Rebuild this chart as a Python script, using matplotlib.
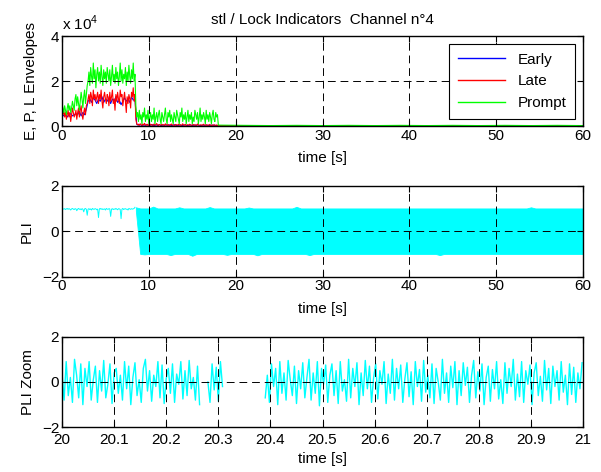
import numpy as np
import matplotlib
matplotlib.use("Agg")
import matplotlib.pyplot as plt

plt.rcParams['font.family'] = ['Liberation Sans', 'DejaVu Sans']
plt.rcParams['font.size'] = 11
plt.rcParams['mathtext.fontset'] = 'custom'
plt.rcParams['mathtext.rm'] = 'Liberation Sans'

# envelopes (x 1e4), one sample every 0.1 s from 0 s
prompt_env = [1.0, 0.8, 0.6, 0.9, 0.7, 0.5, 0.8, 1.0, 0.7, 0.9, 0.6, 0.8, 1.1, 0.9, 0.7,
              1.2, 1.4, 0.9, 1.3, 1.0, 0.7, 1.1, 1.5, 1.2, 0.8, 1.3, 1.6, 1.0, 1.4, 1.8,
              2.0, 2.4, 1.8, 2.6, 2.2, 1.9, 2.8, 2.1, 2.5, 1.7, 2.3, 2.6, 2.0, 2.4, 1.9,
              2.7, 2.2, 1.8, 2.5, 2.1, 2.4, 1.9, 2.6, 2.3, 2.0, 2.5, 1.8, 2.2, 2.7, 2.0,
              2.3, 1.9, 2.6, 2.1, 2.4, 1.8, 2.2, 2.8, 2.0, 2.5, 1.9, 2.3, 2.1, 2.6, 1.8,
              2.4, 2.0, 2.7, 2.2, 1.9, 2.5, 2.1, 2.8, 2.0, 2.3,
              0.9, 0.4, 0.6, 0.2, 0.7, 0.3, 0.5, 0.1, 0.6, 0.4, 0.8, 0.2, 0.5, 0.3, 0.7,
              0.1, 0.4, 0.6, 0.2, 0.5, 0.3, 0.8, 0.1, 0.4, 0.6, 0.2, 0.5, 0.7, 0.3, 0.1,
              0.6, 0.4, 0.2, 0.5, 0.8, 0.3, 0.1, 0.6, 0.4, 0.7, 0.2, 0.5, 0.3, 0.1, 0.6,
              0.4, 0.2, 0.7, 0.5, 0.3, 0.1, 0.6, 0.4, 0.8, 0.2, 0.5, 0.3, 0.6, 0.1, 0.4,
              0.7, 0.2, 0.5, 0.3, 0.6, 0.1, 0.4, 0.2, 0.7, 0.5, 0.3, 0.6, 0.1, 0.4, 0.8,
              0.2, 0.5, 0.3, 0.6, 0.4, 0.1, 0.7, 0.3, 0.5, 0.2, 0.6, 0.4, 0.1, 0.5, 0.7,
              0.3, 0.2, 0.6, 0.4, 0.5]
late_env = [0.6, 0.5, 0.7, 0.4, 0.6, 0.3, 0.5, 0.7, 0.4, 0.6, 0.2, 0.5, 0.8, 0.6, 0.4,
            0.5, 0.7, 0.3, 0.6, 0.8, 0.4, 0.7, 0.9, 0.5, 0.3, 0.6, 0.8, 0.5, 0.9, 1.0,
            1.2, 1.4, 1.0, 1.5, 1.3, 0.9, 1.6, 1.2, 1.4, 1.1, 1.3, 1.5, 1.0, 1.4, 1.2,
            1.6, 1.1, 0.8, 1.3, 1.5, 1.2, 1.0, 1.4, 1.3, 0.9, 1.5, 1.1, 1.3, 1.6, 1.0,
            1.2, 0.7, 1.4, 1.1, 1.5, 1.2, 1.0, 1.6, 1.3, 1.4, 0.9, 1.2, 1.5, 1.1, 0.6,
            1.3, 1.0, 1.4, 1.2, 0.8, 1.5, 1.3, 1.7, 1.1, 1.4,
            0.3, 0.1, 0.05, 0.08, 0.03, 0.1, 0.06, 0.02, 0.09, 0.04, 0.12, 0.05, 0.03, 0.08, 0.02,
            0.06, 0.1, 0.04, 0.07, 0.02, 0.05, 0.09, 0.03, 0.06, 0.11, 0.04, 0.02, 0.07, 0.05, 0.03,
            0.08, 0.04, 0.06, 0.02, 0.1, 0.05, 0.03, 0.07, 0.04, 0.02, 0.06, 0.09, 0.03, 0.05, 0.04,
            0.02, 0.07, 0.05, 0.03, 0.08, 0.04, 0.06, 0.02, 0.05, 0.1, 0.03, 0.04, 0.07, 0.02, 0.05,
            0.06, 0.03, 0.08, 0.04, 0.02, 0.05, 0.07, 0.03, 0.06, 0.04, 0.02, 0.09, 0.05, 0.03, 0.04,
            0.06, 0.02, 0.05, 0.08, 0.03, 0.04, 0.06, 0.02, 0.05, 0.03, 0.07, 0.04, 0.02, 0.05, 0.03,
            0.06, 0.04, 0.02, 0.05, 0.03]
# early envelope, one sample every 0.2 s (mostly hidden under the late one)
early_env = [0.5, 0.45, 0.55, 0.4, 0.5, 0.55, 0.45, 0.5,
             0.55, 0.5, 0.65, 0.45, 0.6, 0.5, 0.75,
             1.1, 1.2, 1.05, 1.25, 1.15, 1.0, 1.2, 1.1, 1.3, 1.05, 1.2, 1.1, 1.25, 1.0,
             1.2, 1.1, 1.3, 1.05, 1.15, 0.95, 1.1, 1.25, 1.1, 1.2, 1.05, 1.3, 1.15, 1.2,
             0.08, 0.04, 0.06, 0.02, 0.05, 0.03, 0.07, 0.02, 0.04, 0.06, 0.02, 0.05, 0.03, 0.06,
             0.02, 0.04, 0.03, 0.05, 0.03, 0.05, 0.02, 0.04, 0.06, 0.02, 0.03, 0.05, 0.02, 0.04,
             0.05, 0.02, 0.03, 0.05, 0.02, 0.04, 0.03, 0.05, 0.03, 0.02, 0.04, 0.03, 0.04, 0.03,
             0.02, 0.04, 0.03, 0.03, 0.02]
# after loss of signal (18 s .. 60 s)
t_tail = [18, 21, 24, 27, 30, 33, 36, 39, 42, 45, 48, 51, 54, 57, 60]
prompt_tail = [0.04, 0.03, 0.02, 0.03, 0.02, 0.03, 0.02, 0.03, 0.02, 0.03, 0.02, 0.03, 0.02, 0.03, 0.02]
late_tail = [0.02, 0.01, 0.01, 0.01, 0.01, 0.01, 0.01, 0.01, 0.01, 0.01, 0.01, 0.01, 0.01, 0.01, 0.01]
early_tail = [0.02, 0.01, 0.01, 0.01, 0.01, 0.01, 0.01, 0.01, 0.01, 0.01, 0.01, 0.01, 0.01, 0.01, 0.01]

# PLI while locked, one sample every 0.1 s from 0 s
pli_lock = [1.0, 0.98, 0.97, 0.99, 0.95, 0.98, 1.0, 0.96, 0.99, 0.97, 0.93, 0.98, 1.0, 0.97, 0.95,
            0.99, 0.98, 0.9, 0.97, 1.0, 0.96, 0.98, 0.94, 0.99, 0.97, 0.85, 0.98, 1.0, 0.96, 0.7,
            0.97, 0.99, 0.95, 0.98, 0.93, 1.0, 0.97, 0.96, 0.99, 0.98, 0.94, 0.97, 0.6, 0.98, 1.0,
            0.96, 0.99, 0.95, 0.97, 0.98, 0.93, 1.0, 0.97, 0.96, 0.99, 0.98, 0.65, 0.97, 0.99, 0.95,
            0.98, 0.96, 1.0, 0.97, 0.94, 0.99, 0.98, 0.96, 0.55, 0.97, 1.0, 0.95, 0.98, 0.99, 0.96,
            0.97, 0.93, 1.0, 0.98, 0.96, 0.99, 0.97, 0.98, 1.0, 1.05]
# PLI after loss of lock: upper / lower extent every 0.5 s from 8.5 s
pli_hi = [1.05, 1.0, 1.0, 1.0, 1.08, 1.0, 1.0, 1.0, 1.0, 1.0, 1.05, 1.0, 1.0, 1.0, 1.0, 1.0,
          1.0, 1.06, 1.0, 1.0, 1.0, 1.0, 1.0, 1.0, 1.0, 1.0, 1.04, 1.0, 1.0, 1.0, 1.0, 1.0,
          1.0, 1.0, 1.0, 1.0, 1.0, 1.07, 1.0, 1.0, 1.0, 1.0, 1.0, 1.0, 1.0, 1.0, 1.0, 1.0,
          1.0, 1.0, 1.0, 1.0, 1.0, 1.0, 1.0, 1.0, 1.0, 1.0, 1.0, 1.0, 1.0, 1.0, 1.0, 1.0,
          1.0, 1.0, 1.0, 1.0, 1.0, 1.0, 1.0, 1.0, 1.0, 1.0, 1.0, 1.0, 1.0, 1.0, 1.0, 1.0,
          1.0, 1.0, 1.0, 1.0, 1.0, 1.0, 1.0, 1.0, 1.0, 1.0, 1.0, 1.05, 1.0, 1.0, 1.0, 1.0,
          1.0, 1.0, 1.0, 1.0, 1.0, 1.0, 1.0, 1.0]
pli_lo = [0.9, -1.0, -1.02, -1.0, -1.0, -1.0, -1.0, -1.0, -1.05, -1.0, -1.0, -1.0, -1.0, -1.08, -1.0, -1.0,
          -1.0, -1.0, -1.0, -1.0, -1.0, -1.04, -1.0, -1.0, -1.0, -1.0, -1.0, -1.0, -1.06, -1.0, -1.0, -1.0,
          -1.0, -1.0, -1.0, -1.0, -1.0, -1.0, -1.0, -1.0, -1.05, -1.0, -1.0, -1.0, -1.0, -1.0, -1.0, -1.0,
          -1.0, -1.0, -1.0, -1.0, -1.0, -1.0, -1.0, -1.0, -1.0, -1.0, -1.0, -1.0, -1.0, -1.0, -1.0, -1.0,
          -1.0, -1.0, -1.0, -1.0, -1.0, -1.0, -1.05, -1.0, -1.0, -1.0, -1.0, -1.0, -1.0, -1.0, -1.0, -1.0,
          -1.0, -1.0, -1.0, -1.0, -1.0, -1.0, -1.0, -1.0, -1.0, -1.0, -1.0, -1.0, -1.0, -1.0, -1.0, -1.0,
          -1.0, -1.0, -1.0, -1.0, -1.0, -1.0, -1.0, -1.0]

# PLI zoom, one sample every 4 ms
zoom_a = [0.4, -0.8, 0.9, -0.6, 0.2, -0.9, 1.0, 0.3, -0.7, 0.8, -1.0, 0.6, -0.2, 0.9, -0.8, 0.1,
          0.7, -0.9, 0.5, -0.4, 0.95, -0.7, -0.1, 0.8, -0.95, 0.4, 0.6, -0.5, 0.3, -0.8, 0.9, -0.3,
          0.7, -1.0, 0.2, 0.85, -0.6, 0.1, -0.9, 0.6, 1.0, -0.4, 0.5, -0.85, 0.3, -0.2, 0.9, -0.7,
          0.75, -0.95, 0.15, 0.6, -0.5, 0.8, -0.9, 0.35, -0.1, 0.9, -0.75, 0.5, -0.6, 0.95, -0.3,
          0.2, -0.8, 0.7, -1.0, np.nan, np.nan, np.nan, 0.0, -0.9, 0.8, -0.35, 0.65, -0.85, 0.9, -0.2]
zoom_b = [-0.7, 0.3, -0.9, 0.8, -0.2, 0.6, -1.0, 0.9, -0.5, 0.4, -0.8, 0.95, 0.1, -0.6, 0.7, -0.95,
          0.5, -0.3, 0.85, -0.7, 0.2, 1.0, -0.8, 0.4, -0.5, 0.9, -1.05, 0.6, -0.1, 0.75, -0.9, 0.3,
          0.8, -0.6, 0.5, -0.95, 0.9, -0.4, 0.1, -0.85, 1.0, -0.7, 0.6, -0.2, 0.85, -1.0, 0.4, -0.6,
          0.95, -0.3, 0.7, -0.9, 0.2, 0.8, -0.75, 0.5, -0.1, 0.9, -0.95, 0.35, -0.5, 1.0, -0.8, 0.6,
          -0.3, 0.75, -0.9, 0.15, 0.85, -0.65, 0.45, -1.0, 0.9, -0.2, 0.55, -0.85, 0.95, -0.45, 0.3,
          -0.7, 0.8, -0.95, 0.6, 0.0, -0.8, 1.0, -0.5, 0.4, -0.9, 0.7, -0.25, 0.9, -1.0, 0.5, -0.6,
          0.85, -0.15, 0.65, -0.9, 0.3, 0.95, -0.7, 0.45, -0.4, 0.8, -1.0, 0.2, 0.7, -0.85, 0.55,
          -0.3, 0.9, -0.75, 0.1, -0.95, 0.85, -0.5, 0.6, -0.2, 1.0, -0.8, 0.35, -0.65, 0.9, -0.9,
          0.5, -0.1, 0.75, -1.0, 0.4, 0.85, -0.6, 0.25, -0.85, 0.95, -0.35, 0.6, -0.95, 0.7, -0.2,
          0.5, -0.8, 0.9, -0.45, 0.3, -1.0, 0.8, -0.55, 0.65, -0.9, 0.4, -0.3, 0.85]
zoom_a_start = 20.0
zoom_b_start = 20.39


def style(ax, xpad=2):
    ax.tick_params(direction='in', top=True, right=True, length=4, width=0.8, labelsize=11, pad=2)
    ax.tick_params(axis='x', pad=xpad)
    for s in ax.spines.values():
        s.set_linewidth(1.0)
    ax.grid(True, color='black', linestyle=(0, (8, 5)), linewidth=0.7)
    ax.set_axisbelow(False)
    ax.set_xlabel('time [s]', labelpad=6)


fig = plt.figure(figsize=(6.01, 4.72), dpi=100)
ax1 = fig.add_axes([0.1032, 0.733, 0.867, 0.1907])
ax2 = fig.add_axes([0.1032, 0.4138, 0.867, 0.1928])
ax3 = fig.add_axes([0.1032, 0.0947, 0.867, 0.192])

# envelopes
t_e = np.arange(len(early_env)) * 0.2
t_pl = np.arange(len(prompt_env)) * 0.1
ax1.plot(np.concatenate([t_e, t_tail]), early_env + early_tail, color='blue', lw=0.8, label='Early')
ax1.plot(np.concatenate([t_pl, t_tail]), late_env + late_tail, color='red', lw=0.8, label='Late')
ax1.plot(np.concatenate([t_pl, t_tail]), prompt_env + prompt_tail, color='#00ff00', lw=0.8, label='Prompt')
ax1.set_xlim(0, 60)
ax1.set_ylim(0, 4)
ax1.set_yticks([0, 2, 4])
ax1.set_xticks(range(0, 61, 10))
ax1.set_ylabel('E, P, L Envelopes', labelpad=9)
ax1.text(0.0, 1.03, r'x 10$^4$', transform=ax1.transAxes, fontsize=11, ha='left', va='bottom')
ax1.set_title('stl / Lock Indicators  Channel n°4', fontsize=11, pad=9)
style(ax1)
leg = ax1.legend(loc='upper right', fontsize=11, handlelength=3.1, labelspacing=0.5,
                 borderpad=0.6, borderaxespad=0.5, fancybox=False, framealpha=1, edgecolor='black')
leg.get_frame().set_linewidth(0.8)
for line in leg.get_lines():
    line.set_linewidth(1.0)

# PLI
t_lock = np.arange(len(pli_lock)) * 0.1
t_band = 8.5 + np.arange(len(pli_hi)) * 0.5
ax2.plot(t_lock, pli_lock, color='cyan', lw=0.7)
ax2.fill_between(t_band, pli_lo, pli_hi, color='cyan', lw=0.6, edgecolor='cyan')
ax2.set_xlim(0, 60)
ax2.set_ylim(-2, 2)
ax2.set_yticks([-2, 0, 2])
ax2.set_xticks(range(0, 61, 10))
ax2.set_ylabel('PLI', labelpad=6)
style(ax2)

# PLI zoom
ta = zoom_a_start + np.arange(len(zoom_a)) * 0.004
tb = zoom_b_start + np.arange(len(zoom_b)) * 0.004
ax3.plot(ta, zoom_a, color='cyan', lw=1.0)
ax3.plot(tb, zoom_b, color='cyan', lw=1.0)
ax3.set_xlim(20, 21)
ax3.set_ylim(-2, 2)
ax3.set_yticks([-2, 0, 2])
ax3.set_xticks(np.round(np.arange(20, 21.01, 0.1), 1))
ax3.set_xticklabels(['20', '20.1', '20.2', '20.3', '20.4', '20.5', '20.6', '20.7', '20.8', '20.9', '21'])
ax3.set_ylabel('PLI Zoom', labelpad=5)
style(ax3, xpad=4)
ax3.set_xlabel('time [s]', labelpad=4)

fig.savefig('out.png', dpi=100)
